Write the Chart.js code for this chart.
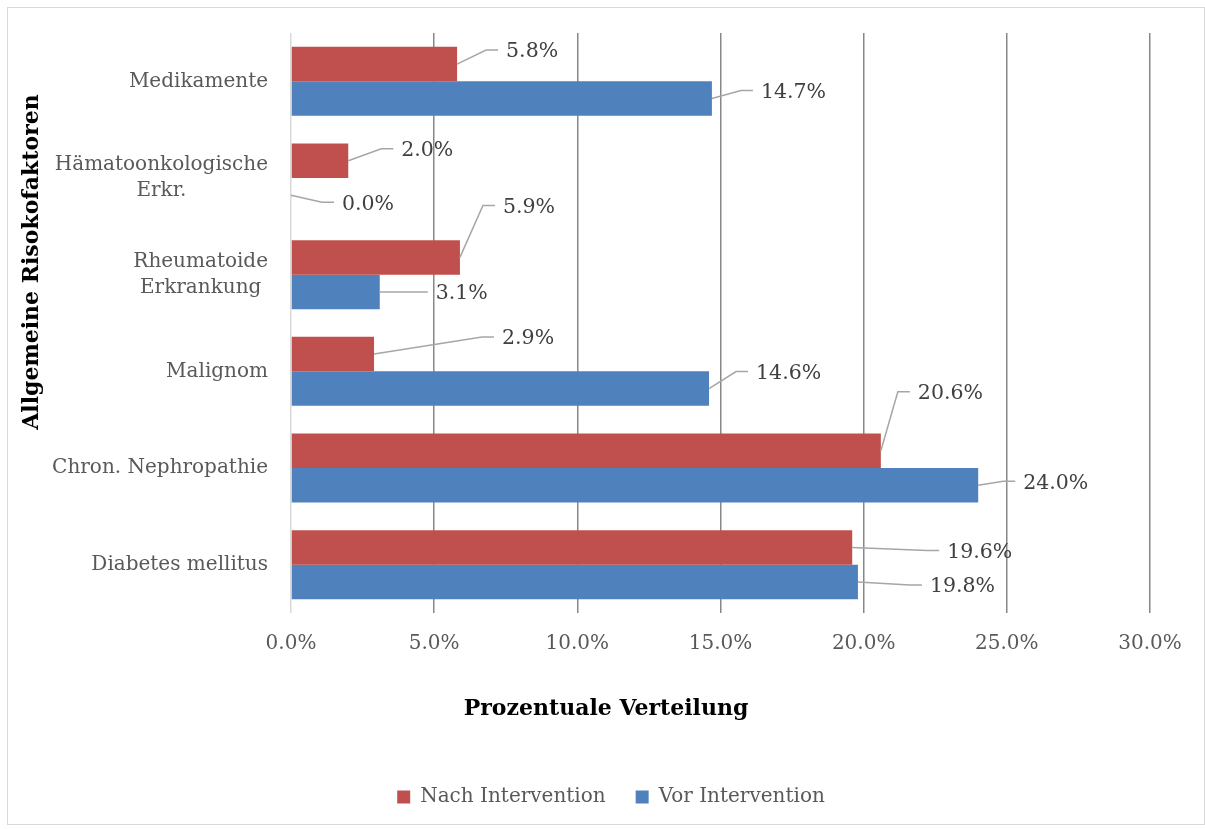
<!DOCTYPE html>
<html lang="de">
<head>
<meta charset="utf-8">
<title>Allgemeine Risikofaktoren</title>
<script src="https://cdn.jsdelivr.net/npm/chart.js@4.4.1/dist/chart.umd.min.js"></script>
<style>
  html, body { margin: 0; padding: 0; background: #fff; }
  canvas { display: block; }
</style>
</head>
<body>
<canvas id="riskChart" width="1205" height="829"></canvas>
<script>
// Risikofaktoren (top to bottom), values in percent
const categories = [
    'Medikamente',
    ['Hämatoonkologische', 'Erkr.'],
    ['Rheumatoide', 'Erkrankung'],
    'Malignom',
    'Chron. Nephropathie',
    'Diabetes mellitus'
];
const nachIntervention = [5.8, 2.0, 5.9, 2.9, 20.6, 19.6];
const vorIntervention = [14.7, 0.0, 3.1, 14.6, 24.0, 19.8];
const xTicks = [0, 5, 10, 15, 20, 25, 30];

const SERIF = '"DejaVu Serif", "Liberation Serif", serif';

// label offsets from the bar end (dx, dy), per dataset and category
const labelNudge = [
    [[49, -12], [53, -10], [43, -50], [128, -15], [37, -57], [95, 5]],
    [[49, -6], [51, 9], [56, 2], [47, -15], [45, -2], [72, 5]]
];

// value labels with gray leader lines
const leaderLabels = {
    id: 'leaderLabels',
    afterDatasetsDraw(chart) {
        const ctx = chart.ctx;
        ctx.save();
        ctx.font = '20.5px ' + SERIF;
        ctx.textBaseline = 'middle';
        ctx.textAlign = 'left';
        chart.data.datasets.forEach((ds, di) => {
            chart.getDatasetMeta(di).data.forEach((bar, i) => {
                const [dx, dy] = labelNudge[di][i];
                const tx = bar.x + dx, ty = bar.y + dy;
                ctx.strokeStyle = '#a6a6a6';
                ctx.lineWidth = 1.5;
                ctx.beginPath();
                ctx.moveTo(bar.x, bar.y);
                ctx.lineTo(tx - 20, ty - 2);
                ctx.lineTo(tx - 8, ty - 2);
                ctx.stroke();
                ctx.fillStyle = '#404040';
                ctx.fillText(ds.data[i].toFixed(1) + '%', tx, ty);
            });
        });
        ctx.restore();
    }
};

// category names: block right-aligned to the axis, lines centered inside it
const categoryLabels = {
    id: 'categoryLabels',
    afterDraw(chart) {
        const ctx = chart.ctx;
        const y = chart.scales.y;
        const right = chart.chartArea.left - 23;
        ctx.save();
        ctx.font = '20px ' + SERIF;
        ctx.fillStyle = '#595959';
        ctx.textAlign = 'center';
        ctx.textBaseline = 'middle';
        y.getLabels().forEach((label, i) => {
            const lines = Array.isArray(label) ? label : [label];
            const w = Math.max(...lines.map(l => ctx.measureText(l).width));
            const cy = y.getPixelForValue(i);
            lines.forEach((line, k) => {
                ctx.fillText(line, right - w / 2, cy + (k - (lines.length - 1) / 2) * 26);
            });
        });
        ctx.restore();
    }
};

// axis titles, frame and white background; legend nudged right a bit
const chartFrame = {
    id: 'chartFrame',
    beforeDraw(chart) {
        const ctx = chart.ctx;
        ctx.save();
        ctx.fillStyle = '#fff';
        ctx.fillRect(0, 0, chart.width, chart.height);
        ctx.restore();
        if (chart.legend && !chart.legend._nudged) {
            chart.legend.left += 36;
            chart.legend.right += 36;
            chart.legend._nudged = true;
        }
    },
    afterDraw(chart) {
        const ctx = chart.ctx;
        ctx.save();
        ctx.strokeStyle = '#d9d9d9';
        ctx.lineWidth = 1;
        ctx.strokeRect(7.5, 7.5, chart.width - 8, chart.height - 12);

        ctx.fillStyle = '#000';
        ctx.font = 'bold 22px ' + SERIF;
        ctx.textAlign = 'center';
        ctx.textBaseline = 'middle';
        ctx.fillText('Prozentuale Verteilung', 606, 709);

        ctx.translate(32, 262);
        ctx.rotate(-Math.PI / 2);
        ctx.fillText('Allgemeine Risokofaktoren', 0, 0);
        ctx.restore();
    }
};

new Chart(document.getElementById('riskChart'), {
    type: 'bar',
    data: {
        labels: categories,
        datasets: [
            {
                label: 'Nach Intervention',
                data: nachIntervention,
                backgroundColor: '#C0504D',
                barPercentage: 1,
                categoryPercentage: 0.714
            },
            {
                label: 'Vor Intervention',
                data: vorIntervention,
                backgroundColor: '#4F81BD',
                barPercentage: 1,
                categoryPercentage: 0.714
            }
        ]
    },
    options: {
        indexAxis: 'y',
        responsive: false,
        animation: false,
        layout: { padding: { top: 33, right: 55, bottom: 12, left: 0 } },
        plugins: {
            tooltip: { enabled: false },
            legend: {
                position: 'bottom',
                labels: {
                    boxWidth: 13,
                    boxHeight: 13,
                    padding: 30,
                    color: '#595959',
                    font: { family: SERIF, size: 20 }
                }
            }
        },
        scales: {
            x: {
                min: 0,
                max: 30,
                afterBuildTicks: (scale) => { scale.ticks = xTicks.map(v => ({ value: v })); },
                afterFit: (scale) => { scale.height = 144; },
                ticks: {
                    padding: 19,
                    color: '#595959',
                    font: { family: SERIF, size: 20 },
                    callback: (v) => Number(v).toFixed(1) + '%'
                },
                grid: {
                    drawTicks: false,
                    lineWidth: 1.5,
                    color: (c) => c.index === 0 ? '#d9d9d9' : '#878787'
                },
                border: { display: false }
            },
            y: {
                afterFit: (scale) => { scale.width = 291; },
                ticks: { display: false },
                grid: { display: false },
                border: { display: false }
            }
        }
    },
    plugins: [chartFrame, leaderLabels, categoryLabels]
});
</script>
</body>
</html>
